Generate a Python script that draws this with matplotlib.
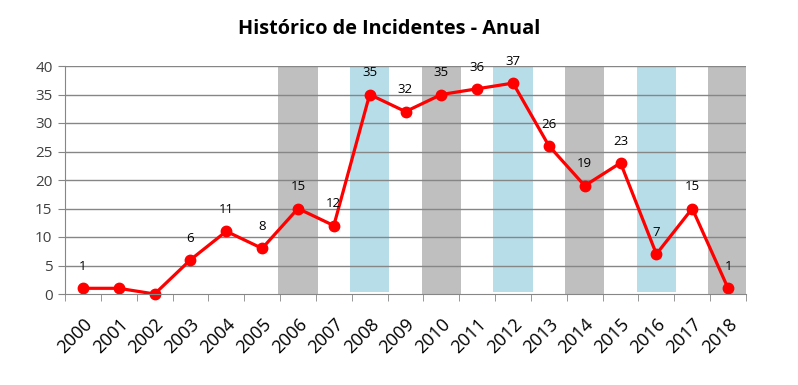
import matplotlib
matplotlib.use("Agg")
import matplotlib.pyplot as plt

years = [str(y) for y in range(2000, 2019)]
incidents = [1, 1, 0, 6, 11, 8, 15, 12, 35, 32, 35, 36, 37, 26, 19, 23, 7, 15, 1]
labeled = [True, False, False] + [True] * 16
gray_years = ["2006", "2010", "2014", "2018"]
blue_years = ["2008", "2012", "2016"]

plt.rcParams['font.family'] = ['Open Sans', 'DejaVu Sans']

fig = plt.figure(figsize=(7.98, 3.85), dpi=100)
ax = fig.add_axes([65/798, 1-294/385, (746-65)/798, (294-66)/385])

x = list(range(len(years)))
gx = [years.index(y) for y in gray_years]
bx = [years.index(y) for y in blue_years]
ax.bar(gx, [40]*len(gx), width=1.1, color='#bfbfbf', zorder=1)
ax.bar(bx, [39.7]*len(bx), bottom=0.3, width=1.1, color='#b7dde8', zorder=1)

for v in range(5, 45, 5):
    ax.axhline(v, color='#868686', lw=1.0, zorder=2)

ax.plot(x, incidents, color='#ff0000', lw=2.3, marker='o', markersize=7.5, zorder=3, clip_on=False)
for xi, v, lab in zip(x, incidents, labeled):
    if lab:
        ax.annotate(str(v), (xi, v), xytext=(0, 11), textcoords='offset points',
                    ha='center', va='bottom', fontsize=9.5, color='black', zorder=4)

ax.set_xlim(-0.5, 18.5)
ax.set_ylim(0, 40)
ax.set_yticks(range(0, 45, 5))
ax.set_xticks(x)
ax.set_xticklabels(years, rotation=45, ha='right', rotation_mode='anchor', fontsize=13)
ax.set_xticks([i - 0.5 for i in range(len(years) + 1)], minor=True)
ax.tick_params(axis='x', which='major', length=0, pad=15)
ax.tick_params(axis='x', which='minor', length=5, color='#868686', direction='out')
ax.tick_params(axis='y', length=5, color='#868686', labelsize=11, labelcolor='#404040', pad=4)
for s in ['top', 'right']:
    ax.spines[s].set_visible(False)
for s in ['left', 'bottom']:
    ax.spines[s].set_color('#868686')
ax.spines['bottom'].set_zorder(5)

fig.text(0.488, 0.925, 'Histórico de Incidentes - Anual', ha='center', va='center',
         fontsize=14.3, fontweight='bold')

fig.savefig('out.png', dpi=100)
